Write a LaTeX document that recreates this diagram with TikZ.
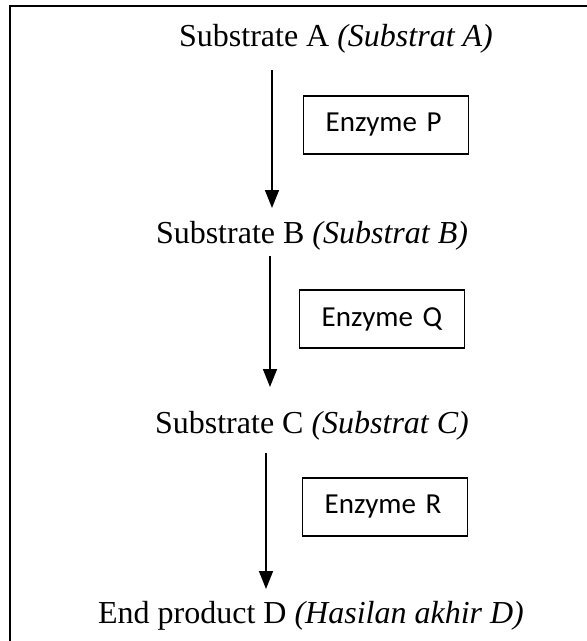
\documentclass[tikz,border=0pt]{standalone}
\usepackage{fontspec}
\setmainfont{Liberation Serif}
\newfontfamily\boxfont{Carlito}
\usetikzlibrary{arrows.meta}

\begin{document}
\begin{tikzpicture}[x=1pt,y=-1pt]

      \useasboundingbox (0,0) rectangle (587,641);
      \draw[line width=2pt] (9.5,641) -- (9.5,5.5) -- (587,5.5);

      \begin{scope}[every node/.style={anchor=base, font=\fontsize{32}{36}\selectfont}]
        \node (A) at (336,46)  {Substrate A \textit{(Substrat A)}};
        \node (B) at (312,243) {Substrate B \textit{(Substrat B)}};
        \node (C) at (312,433) {Substrate C \textit{(Substrat C)}};
        \node (D) at (311,623) {End product D \textit{(Hasilan akhir D)}};
      \end{scope}

      \begin{scope}[every node/.style={draw, line width=1.3pt, anchor=west,
          text width=121pt, inner xsep=22pt, minimum height=58pt, align=left,
          font=\boxfont\fontsize{29}{33}\selectfont}]
        \node (P) at (303,125) {Enzyme P};
        \node (Q) at (299,319) {Enzyme Q};
        \node (R) at (302,507) {Enzyme R};
      \end{scope}

      \coordinate (a1) at (272,70);
      \coordinate (b1) at (272,208);
      \coordinate (a2) at (270,256);
      \coordinate (b2) at (270,387);
      \coordinate (a3) at (266,453);
      \coordinate (b3) at (266,589);

      \begin{scope}[line width=1.5pt, -{Triangle[width=14pt,length=18pt]}]
        \draw (a1) -- (b1);
        \draw (a2) -- (b2);
        \draw (a3) -- (b3);
      \end{scope}

    \end{tikzpicture}
\end{document}
